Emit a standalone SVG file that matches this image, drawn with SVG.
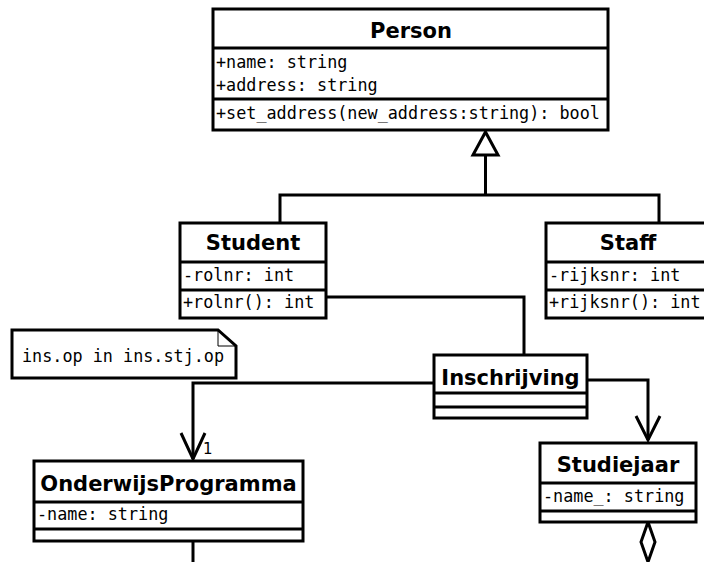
<svg xmlns="http://www.w3.org/2000/svg" width="704" height="562" viewBox="0 0 704 562">
<style>
.box{fill:#fff;stroke:#000;stroke-width:3}
.div{stroke:#000;stroke-width:3}
.t{font-family:"DejaVu Sans",sans-serif;font-weight:bold;font-size:21px;text-anchor:middle;fill:#000}
.m{font-family:"DejaVu Sans Mono",monospace;font-size:16.8px;fill:#000}
.c{fill:none;stroke:#000;stroke-width:3}
.lbl{font-family:"DejaVu Sans",sans-serif;font-size:15px;fill:#000}
</style>
<rect width="704" height="562" fill="#fff"/>
<g id="connectors">
<path class="c" d="M280,222 V195 H659 V222"/>
<path class="c" d="M485.5,195 V155"/>
<path class="c" d="M473,155 L485.5,132 L498,155 Z" style="fill:#fff"/>
<path class="c" d="M326,297 H524 V355"/>
<path class="c" d="M434,383 H193 V459"/>
<path class="c" d="M181,433 L193,459 L205,433"/>
<text class="lbl" x="203" y="454">1</text>
<path class="c" d="M587,380 H648 V440"/>
<path class="c" d="M636,416 L648,440 L660,416"/>
<path class="c" d="M193,541 V562"/>
<path class="c" d="M648,522 L655,542 L648,562 L641,542 Z" style="fill:#fff"/>
</g>
<g id="person">
<rect class="box" x="213" y="9" width="395" height="121"/>
<line class="div" x1="213" y1="48" x2="608" y2="48"/>
<line class="div" x1="213" y1="99" x2="608" y2="99"/>
<text class="t" x="411" y="38">Person</text>
<text class="m" x="216" y="68">+name: string</text>
<text class="m" x="216" y="91">+address: string</text>
<text class="m" x="216" y="119">+set_address(new_address:string): bool</text>
</g>
<g id="student">
<rect class="box" x="180" y="223" width="146" height="95"/>
<line class="div" x1="180" y1="262" x2="326" y2="262"/>
<line class="div" x1="180" y1="290" x2="326" y2="290"/>
<text class="t" x="253" y="250">Student</text>
<text class="m" x="183" y="281">-rolnr: int</text>
<text class="m" x="183" y="308">+rolnr(): int</text>
</g>
<g id="staff">
<rect class="box" x="546" y="223" width="164" height="95"/>
<line class="div" x1="546" y1="262" x2="710" y2="262"/>
<line class="div" x1="546" y1="290" x2="710" y2="290"/>
<text class="t" x="628" y="250">Staff</text>
<text class="m" x="549" y="281">-rijksnr: int</text>
<text class="m" x="549" y="308">+rijksnr(): int</text>
</g>
<g id="note">
<path d="M12,330 H218 L236,346 V378 H12 Z" fill="#fff" stroke="#000" stroke-width="3"/>
<path d="M218,330 V346 H236" fill="none" stroke="#000" stroke-width="1"/>
<text class="m" x="22" y="362">ins.op in ins.stj.op</text>
</g>
<g id="inschrijving">
<rect class="box" x="434" y="355" width="153" height="63"/>
<line class="div" x1="434" y1="393" x2="587" y2="393"/>
<line class="div" x1="434" y1="407" x2="587" y2="407"/>
<text class="t" x="510.5" y="385">Inschrijving</text>
</g>
<g id="onderwijsprogramma">
<rect class="box" x="34" y="461" width="269" height="80"/>
<line class="div" x1="34" y1="502" x2="303" y2="502"/>
<line class="div" x1="34" y1="529" x2="303" y2="529"/>
<text class="t" x="168.5" y="491">OnderwijsProgramma</text>
<text class="m" x="37" y="520">-name: string</text>
</g>
<g id="studiejaar">
<rect class="box" x="540" y="443" width="156" height="79"/>
<line class="div" x1="540" y1="483" x2="696" y2="483"/>
<line class="div" x1="540" y1="511" x2="696" y2="511"/>
<text class="t" x="618" y="472">Studiejaar</text>
<text class="m" x="543" y="502">-name_: string</text>
</g>
</svg>
